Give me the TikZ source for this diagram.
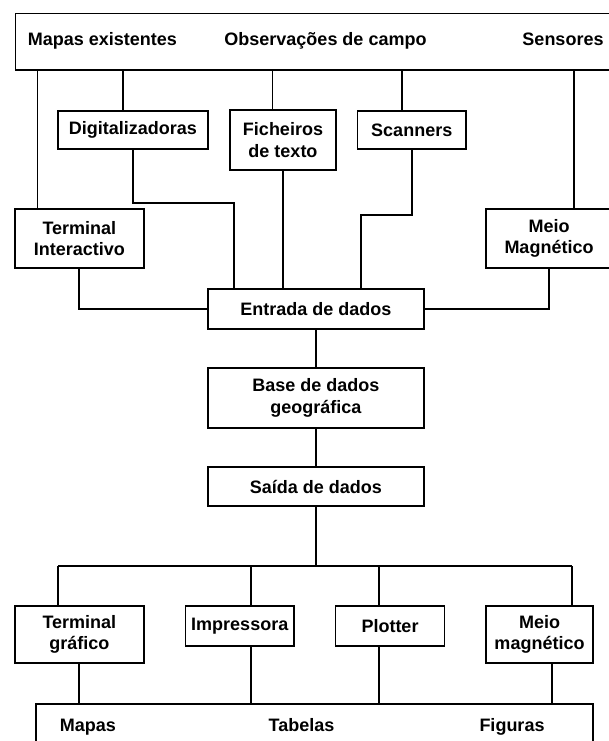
\documentclass[tikz,border=0pt]{standalone}
\usepackage{fontspec}
\setmainfont{Liberation Sans}

\begin{document}
\begin{tikzpicture}[
    x=1pt, y=-1pt,
    caixa/.style={rectangle,draw,line width=1.8pt,inner sep=0pt,align=center,
        font=\fontsize{18}{21.5}\selectfont\bfseries},
    rotulo/.style={inner sep=0pt,anchor=base,font=\fontsize{18}{21.5}\selectfont\bfseries},
    liga/.style={line width=1.8pt},
]
\useasboundingbox (0,0) rectangle (609,741);

% =====================================================
% Fontes de dados
% =====================================================

\node[caixa,minimum width=604.5pt,minimum height=56.5pt] (fontes) at (317.75,41.75) {};
\node[rotulo] (mapasex) at (102.5,46) {Mapas existentes};
\node[rotulo] (obs) at (325.5,46) {Observações de campo};
\node[rotulo] (sens) at (563,46) {Sensores};

\node[caixa,minimum width=149.6pt,minimum height=38pt] (digit) at (132.8,130) {Digitalizadoras};
\node[caixa,minimum width=106pt,minimum height=60pt] (fich) at (283,140) {Ficheiros\\de texto};
\node[caixa,minimum width=108.5pt,minimum height=38pt] (scan) at (411.75,130) {Scanners};

\node[caixa,minimum width=129.3pt,minimum height=59pt] (termint) at (79.35,238.5) {Terminal\\Interactivo};
\node[caixa,minimum width=126pt,minimum height=59pt] (meio1) at (549,238.5) {Meio\\Magnético};

% =====================================================
% Entrada, base e saida
% =====================================================

\node[caixa,minimum width=216.4pt,minimum height=40pt] (entrada) at (315.8,309) {Entrada de dados};
\node[caixa,minimum width=216.4pt,minimum height=60pt] (base) at (315.8,398) {Base de dados\\geográfica};
\node[caixa,minimum width=216.4pt,minimum height=39pt] (saida) at (315.8,486.5) {Saída de dados};

% =====================================================
% Periféricos de saida
% =====================================================

\node[caixa,minimum width=129.3pt,minimum height=57pt] (termgraf) at (79.35,634.5) {Terminal\\gráfico};
\node[caixa,minimum width=108.5pt,minimum height=40pt] (impr) at (239.75,626) {Impressora};
\node[caixa,minimum width=109pt,minimum height=40pt] (plotter) at (390,626) {Plotter};
\node[caixa,minimum width=107pt,minimum height=57pt] (meio2) at (539.5,634.5) {Meio\\magnético};

\node[caixa,minimum width=557pt,minimum height=56pt] (saidas) at (314.5,732) {};
\node[rotulo] (mapas) at (88,731) {Mapas};
\node[rotulo] (tabelas) at (301.5,731) {Tabelas};
\node[rotulo] (figuras) at (512,731) {Figuras};

% ligacoes de cima
\coordinate (c1) at (37.5,0);
\coordinate (c2) at (123,0);
\coordinate (c3) at (272.5,0);
\coordinate (c4) at (402,0);
\coordinate (c5) at (574,0);

\draw[liga] (fontes.south -| c1) -- (termint.north -| c1);
\draw[liga] (fontes.south -| c2) -- (digit.north -| c2);
\draw[liga] (fontes.south -| c3) -- (fich.north -| c3);
\draw[liga] (fontes.south -| c4) -- (scan.north -| c4);
\draw[liga] (fontes.south -| c5) -- (meio1.north -| c5);

\coordinate (kd) at (234,203);
\coordinate (ks) at (361,215);

\draw[liga] (digit.south) |- (kd) -- (entrada.north -| kd);
\draw[liga] (fich.south) -- (entrada.north -| fich.south);
\draw[liga] (scan.south) |- (ks) -- (entrada.north -| ks);
\draw[liga] (termint.south) |- (entrada.west);
\draw[liga] (meio1.south) |- (entrada.east);

\draw[liga] (entrada) -- (base);
\draw[liga] (base) -- (saida);

% ligacoes de baixo
\coordinate (b1) at (58,566);
\coordinate (b2) at (251,566);
\coordinate (b3) at (379,566);
\coordinate (b4) at (572,566);
\coordinate (d4) at (552,0);

\draw[liga] (saida.south) -- (saida.south |- b1);
\draw[liga] (b1) -- (b4);
\draw[liga] (b1) -- (termgraf.north -| b1);
\draw[liga] (b2) -- (impr.north -| b2);
\draw[liga] (b3) -- (plotter.north -| b3);
\draw[liga] (b4) -- (meio2.north -| b4);

\draw[liga] (termgraf.south) -- (saidas.north -| termgraf.south);
\draw[liga] (impr.south -| b2) -- (saidas.north -| b2);
\draw[liga] (plotter.south -| b3) -- (saidas.north -| b3);
\draw[liga] (meio2.south -| d4) -- (saidas.north -| d4);

\end{tikzpicture}
\end{document}
